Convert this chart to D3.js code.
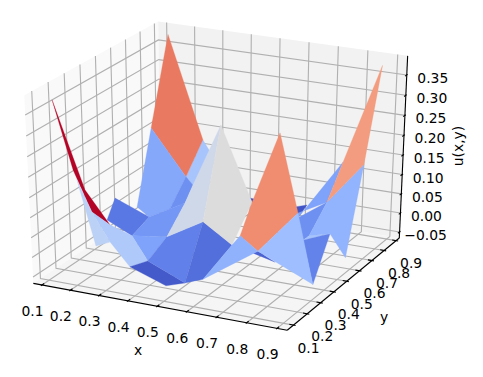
<!DOCTYPE html>
<html><head><meta charset="utf-8"><script src="https://cdn.jsdelivr.net/npm/d3@7"></script>
<style>html,body{margin:0;background:#fff}svg{display:block}text{font-family:"DejaVu Sans";font-size:13.89px;fill:#000}</style></head><body>
<svg id="c" width="483" height="377"></svg>
<script>
const xTicks=[0.1,0.2,0.3,0.4,0.5,0.6,0.7,0.8,0.9];
const yTicks=[0.1,0.2,0.3,0.4,0.5,0.6,0.7,0.8,0.9];
const zTicks=[-0.05,0,0.05,0.1,0.15,0.2,0.25,0.3,0.35];
const xLabel="x",yLabel="y",zLabel="u(x,y)";
const vertexX=[.118,.155,.328,.290,.151,.246,.295,.328,.324,.125,.148,.236,.334,.343,.332,.482,.522,.437,.586,.584,.451,.590,.490,.698,.653,.763,.884,.779,.705,.826,.872,.905,.894,.882,.816,.824,.719,.802,.109,.144,.177,.212,.155,.156,.215,.238,.382,.661,.619,.488,.459];
const vertexY=[.90,.70,.60,.80,.60,.50,.55,.65,.60,.50,.40,.40,.45,.30,.20,.15,.20,.50,.40,.20,.60,.45,.75,.35,.60,.50,.35,.30,.30,.40,.50,.55,.70,.85,.60,.70,.60,.50,.15,.20,.25,.30,.25,.20,.20,.25,.70,.80,.80,.80,.80];
const vertexU=[.374,.183,.101,.145,.001,.012,.026,.068,.033,.046,.017,-.013,-.016,-.038,-.028,-.043,-.044,.023,.008,-.026,.246,.019,.018,.020,.249,.086,-.040,.016,.029,.051,.047,-.023,.175,.384,.095,.173,.043,.033,.369,.192,.079,.038,.132,.169,.010,.010,.127,.019,.009,.011,.013];
const faces=[[50,49,22],[48,47,36],[3,2,7,46],[0,1,2,3],[1,2,6,5,4],[2,7,8,6],[9,5,11,10],[5,8,12,11],[11,12,13],[38,39,40,41,42],[40,41,11,13,14,45],[43,44,45,40],[14,13,16,15],[13,12,17,16],[20,7,8,12,17],[17,18,19,16],[20,17,18,22],[23,27,28],[35,34,25,36],[36,34,37,29],[29,37,30],[29,30,26],[37,30,31,32,34],[33,32,34,35],[24,22,21,23,25],[18,21,23,19],[25,23,26]];
const faceU=[-.03,-.024,.061,.2,.034,.015,-.002,.02,.029,.25,.068,.078,-.022,.004,.096,-.008,.11,-.016,.029,.015,.062,.006,.044,.177,.188,.043,.054];
const coolwarmStops=["#3b4cc0","#5a78e4","#7b9ff9","#9ebeff","#c0d4f5","#dddcdc","#f2cbb7","#f7ac8e","#ee8468","#d65244","#b40426"];

const xLim=[.0867,.9158],yLim=[.0724,.9092],zLim=[-.0569,.3873];
const elev=26.5*Math.PI/180,azim=-64*Math.PI/180,dist=10;
const wx=d3.scaleLinear().domain(xLim).range([0,1]),wy=d3.scaleLinear().domain(yLim).range([0,1]),wz=d3.scaleLinear().domain(zLim).range([0,1]);
const sx=d3.scaleLinear().domain([0,1]).range([220.16,220.16+2687.3]);
const sy=d3.scaleLinear().domain([0,1]).range([169.80,169.80-1984.6]);
const colour=d3.scaleLinear().domain(d3.range(coolwarmStops.length).map(i=>-.03+.28*i/(coolwarmStops.length-1))).range(coolwarmStops).interpolate(d3.interpolateRgb);
const n=[Math.cos(elev)*Math.cos(azim),Math.cos(elev)*Math.sin(azim),Math.sin(elev)];
const E=n.map(c=>.5+dist*c),hn=Math.hypot(n[0],n[1]),u=[-n[1]/hn,n[0]/hn,0];
const v=[n[1]*u[2]-n[2]*u[1],n[2]*u[0]-n[0]*u[2],n[0]*u[1]-n[1]*u[0]];
function proj(a,b,c){const q=[a-E[0],b-E[1],c-E[2]],d=r=>r[0]*q[0]+r[1]*q[1]+r[2]*q[2],w=-d(n);return [sx(d(u)/w),sy(d(v)/w)];}
const lo=-1/48,hi=1+1/48,tick=1/12;
const svg=d3.select("#c"),line=d3.line();
const pane=(pts,f)=>svg.append("path").attr("d",line(pts.map(p=>proj(...p)))+"Z").attr("fill",f);
pane([[lo,lo,lo],[lo,hi,lo],[lo,hi,hi],[lo,lo,hi]],"#f9f9f9");
pane([[lo,hi,lo],[hi,hi,lo],[hi,hi,hi],[lo,hi,hi]],"#f2f2f2");
pane([[lo,lo,lo],[hi,lo,lo],[hi,hi,lo],[lo,hi,lo]],"#f5f5f5");
const stroke=(pts,c)=>svg.append("path").attr("d",line(pts.map(p=>proj(...p)))).attr("fill","none").attr("stroke",c).attr("stroke-width",1.11);
xTicks.forEach(t=>{const w=wx(t);stroke([[w,lo,lo],[w,hi,lo],[w,hi,hi]],"#b0b0b0");});
yTicks.forEach(t=>{const w=wy(t);stroke([[hi,w,lo],[lo,w,lo],[lo,w,hi]],"#b0b0b0");});
zTicks.forEach(t=>{const w=wz(t);stroke([[lo,lo,w],[lo,hi,w],[hi,hi,w]],"#b0b0b0");});
stroke([[lo,lo,lo],[hi,lo,lo]],"#000");stroke([[hi,lo,lo],[hi,hi,lo]],"#000");stroke([[hi,hi,lo],[hi,hi,hi]],"#000");
const txt=(x,y,s)=>svg.append("text").attr("x",x).attr("y",y).attr("text-anchor","middle").attr("dominant-baseline","central").text(s);
xTicks.forEach(t=>{const w=wx(t);stroke([[w,lo+.2*tick,lo],[w,lo-.1*tick,lo]],"#000");const p=proj(w,lo,lo);txt(p[0]-9.5,p[1]+26,t.toFixed(1));});
yTicks.forEach(t=>{const w=wy(t);stroke([[hi-.2*tick,w,lo],[hi+.1*tick,w,lo]],"#000");const p=proj(hi,w,lo);txt(p[0]+15,p[1]+22.5,t.toFixed(1));});
zTicks.forEach(t=>{const w=wz(t);stroke([[hi,hi-.2*tick,w],[hi,hi+.1*tick,w]],"#000");const p=proj(hi,hi,w);txt(p[0]+26,p[1]+3,t.toFixed(2).replace("-","\u2212"));});
txt(138,350,xLabel);txt(384,317,yLabel);
svg.append("text").attr("transform","translate(458,146) rotate(-90)").attr("text-anchor","middle").attr("dominant-baseline","central").text(zLabel);
const vp=vertexX.map((x,i)=>proj(wx(x),wy(vertexY[i]),wz(vertexU[i])));
svg.append("g").selectAll("path").data(faces).join("path").attr("d",f=>line(f.map(i=>vp[i]))+"Z").attr("fill",(f,i)=>colour(faceU[i])).attr("stroke",(f,i)=>colour(faceU[i])).attr("stroke-width",.3);
</script></body></html>
